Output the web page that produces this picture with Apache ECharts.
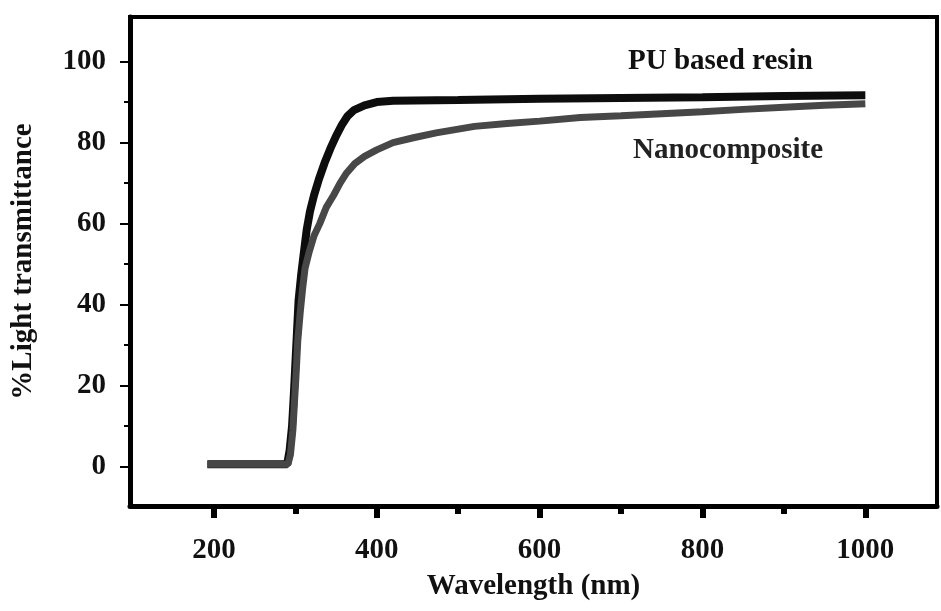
<!DOCTYPE html>
<html>
<head>
<meta charset="utf-8">
<script src="https://cdn.jsdelivr.net/npm/echarts@6/dist/echarts.min.js"></script>
<style>
  html, body { margin: 0; padding: 0; background: #fff; }
  #chart { width: 941px; height: 611px; }
</style>
</head>
<body>
<div id="chart"></div>
<script>
// PU based resin (black curve): [wavelength nm, % transmittance]
const resinData = [
  [192, 0.6], [290, 0.6], [293, 4], [296, 10], [298, 17], [300, 25],
  [302, 33], [304, 41], [307, 47], [310, 52], [314, 58.5], [318, 63],
  [323, 67], [329, 71], [336, 75], [343, 78.5], [350, 81.6], [357, 84.3],
  [364, 86.5], [372, 88], [385, 89.2], [400, 90], [420, 90.3], [500, 90.5],
  [600, 90.8], [700, 91], [800, 91.2], [900, 91.5], [1000, 91.7]
];
// Nanocomposite (grey curve)
const nanoData = [
  [192, 0.6], [291, 0.6], [294, 3], [297, 9], [299, 16], [301, 23],
  [303, 31], [306, 38], [309, 44], [312, 49], [317, 53], [323, 57],
  [330, 60], [338, 64], [347, 67], [355, 70], [363, 72.5], [373, 74.8],
  [385, 76.6], [400, 78.2], [420, 80], [445, 81.2], [473, 82.4], [520, 84],
  [560, 84.7], [600, 85.3], [650, 86.2], [700, 86.6], [750, 87.1], [800, 87.6],
  [850, 88.2], [900, 88.7], [950, 89.2], [1000, 89.6]
];
const xMajor = [200, 400, 600, 800, 1000];
const xMinor = [300, 500, 700, 900];
const yMajor = [0, 20, 40, 60, 80, 100];
const yMinor = [10, 30, 50, 70, 90];

const chart = echarts.init(document.getElementById('chart'));
const serif = '"Liberation Serif", "DejaVu Serif", serif';
const labelFont = { fontFamily: serif, fontWeight: 'bold', fontSize: 29, color: '#111' };

const option = {
  animation: false,
  backgroundColor: '#fff',
  grid: { left: 130, right: 4, top: 17, bottom: 105, show: true, borderColor: '#000', borderWidth: 4 },
  xAxis: [{
    type: 'value', min: 97, max: 1088,
    name: 'Wavelength (nm)', nameLocation: 'middle', nameGap: 66,
    nameTextStyle: labelFont,
    axisLine: { show: true, onZero: false, lineStyle: { color: '#000', width: 5 } },
    axisTick: { show: true, customValues: xMajor, length: 12, lineStyle: { color: '#000', width: 6 } },
    axisLabel: { customValues: xMajor, margin: 30, formatter: v => String(v), ...labelFont },
    splitLine: { show: false }
  }, {
    type: 'value', min: 97, max: 1088, position: 'bottom',
    axisLine: { show: false, onZero: false },
    axisTick: { show: true, customValues: xMinor, length: 8, lineStyle: { color: '#000', width: 6 } },
    axisLabel: { show: false },
    splitLine: { show: false }
  }],
  yAxis: [{
    type: 'value', min: -9.7, max: 111,
    name: '%Light transmittance', nameLocation: 'middle', nameGap: 92,
    nameTextStyle: labelFont,
    axisLine: { show: true, onZero: false, lineStyle: { color: '#000', width: 5 } },
    axisTick: { show: true, customValues: yMajor, length: 10, lineStyle: { color: '#000', width: 2 } },
    axisLabel: { customValues: yMajor, margin: 24, ...labelFont },
    splitLine: { show: false }
  }, {
    type: 'value', min: -9.7, max: 111, position: 'left',
    axisLine: { show: false, onZero: false },
    axisTick: { show: true, customValues: yMinor, length: 6, lineStyle: { color: '#000', width: 2 } },
    axisLabel: { show: false },
    splitLine: { show: false }
  }],
  graphic: [
    { type: 'text', left: 628, top: 47, style: { text: 'PU based resin', font: 'bold 29px ' + serif, fill: '#111' } },
    { type: 'text', left: 633, top: 136, style: { text: 'Nanocomposite', font: 'bold 29px ' + serif, fill: '#222' } }
  ],
  series: [
    {
      name: 'PU based resin', type: 'line', data: resinData, showSymbol: false,
      lineStyle: { color: '#0d0d0d', width: 8 }
    },
    {
      name: 'Nanocomposite', type: 'line', data: nanoData, showSymbol: false,
      lineStyle: { color: '#474747', width: 7 }
    }
  ]
};

chart.setOption(option);
</script>
</body>
</html>
